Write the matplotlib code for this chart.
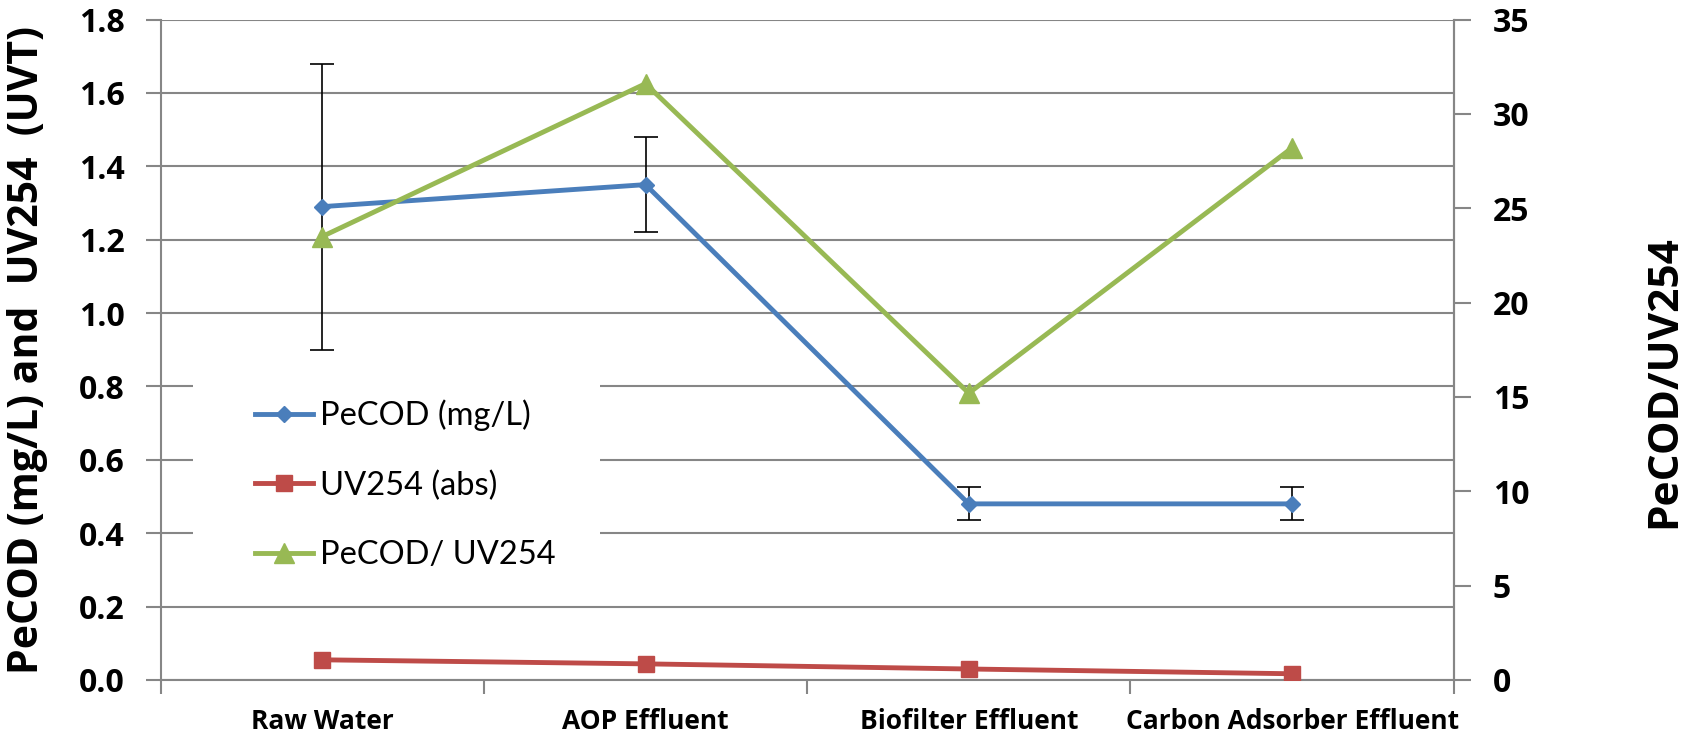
import numpy as np
import matplotlib.pyplot as plt
from matplotlib.patches import Rectangle
from matplotlib.ticker import MultipleLocator, FixedLocator, NullFormatter

categories = ['Raw Water', 'AOP Effluent', 'Biofilter Effluent', 'Carbon Adsorber Effluent']
pecod = [1.29, 1.35, 0.48, 0.48]
pecod_err = [0.39, 0.13, 0.045, 0.045]
uv254 = [0.055, 0.044, 0.030, 0.017]
ratio = [23.5, 31.6, 15.2, 28.2]

BLUE = '#4a7ebb'
RED = '#be4b48'
GREEN = '#98b954'
GRAY = '#868686'

plt.rcParams['font.family'] = ['Open Sans', 'DejaVu Sans']
plt.rcParams['font.weight'] = 'bold'


def main():
    fig = plt.figure(figsize=(17.01, 7.34), dpi=100)
    W, H = 1701, 734
    left, right, top, bottom = 160.6, 1453.7, 19.5, 680
    ax = fig.add_axes([left / W, 1 - bottom / H, (right - left) / W, (bottom - top) / H])
    ax2 = ax.twinx()

    x = np.arange(len(categories))

    ax.errorbar(x, pecod, yerr=pecod_err, fmt='none', ecolor='black',
                elinewidth=1.2, capsize=8.5, capthick=1.2, zorder=3)
    l1, = ax.plot(x, pecod, color=BLUE, lw=3.5, marker='D', ms=8.5,
                  label='PeCOD (mg/L)', zorder=4)
    l2, = ax.plot(x, uv254, color=RED, lw=3.5, marker='s', ms=12,
                  label='UV254 (abs)', zorder=4)
    l3, = ax2.plot(x, ratio, color=GREEN, lw=3.5, marker='^', ms=14,
                   label='PeCOD/ UV254', zorder=4)

    ax.set_xlim(-0.5, len(categories) - 0.5)
    ax.set_ylim(0, 1.8)
    ax2.set_ylim(0, 35)
    ax.yaxis.set_major_locator(MultipleLocator(0.2))
    ax2.yaxis.set_major_locator(MultipleLocator(5))
    ax.yaxis.set_major_formatter(plt.FuncFormatter(lambda v, p: f'{v:.1f}'))

    # category boundaries as ticks, names centred in between
    ax.xaxis.set_major_locator(FixedLocator(np.arange(-0.5, len(categories), 1.0)))
    ax.xaxis.set_major_formatter(NullFormatter())
    ax.xaxis.set_minor_locator(FixedLocator(x))
    ax.xaxis.set_minor_formatter(plt.FixedFormatter(categories))
    ax.tick_params(axis='x', which='major', length=10, width=1.5, color=GRAY)
    ax.tick_params(axis='x', which='minor', length=0, pad=20, labelsize=19)

    ax.tick_params(axis='y', direction='out', length=11, width=1.5, color=GRAY,
                   pad=15, labelsize=23)
    ax2.tick_params(axis='y', direction='out', length=12, width=1.5, color=GRAY,
                    pad=16, labelsize=23)

    ax.grid(axis='y', color=GRAY, lw=1.5)
    ax.set_axisbelow(True)
    for a in (ax, ax2):
        for s in a.spines.values():
            s.set_color(GRAY)
            s.set_linewidth(1.5)
        a.spines['top'].set_visible(False)
    ax2.spines['left'].set_visible(False)
    ax2.spines['bottom'].set_visible(False)

    # white legend area hiding the gridlines
    ax.add_patch(Rectangle((193 / W, 1 - 592 / H), (600 - 193) / W, (592 - 365) / H,
                           transform=fig.transFigure, facecolor='white',
                           edgecolor='none', zorder=1))

    fig.text(28 / W, 1 - 350 / H, 'PeCOD (mg/L) and  UV254  (UVT)', rotation=90,
             ha='center', va='center', fontsize=29.5)
    fig.text(1665 / W, 1 - 382 / H, 'PeCOD/UV254', rotation=90,
             ha='center', va='center', fontsize=30.5)

    ax2.legend(handles=[l1, l2, l3], loc='upper left',
               bbox_to_anchor=(222 / W, 1 - 367 / H), bbox_transform=fig.transFigure,
               borderaxespad=0, borderpad=1.0, labelspacing=1.2,
               handlelength=1.8, handletextpad=0.2, frameon=False,
               prop={'family': 'Lato', 'weight': 'normal', 'size': 23.5})

    fig.savefig('out.png', dpi=100)


if __name__ == '__main__':
    main()
